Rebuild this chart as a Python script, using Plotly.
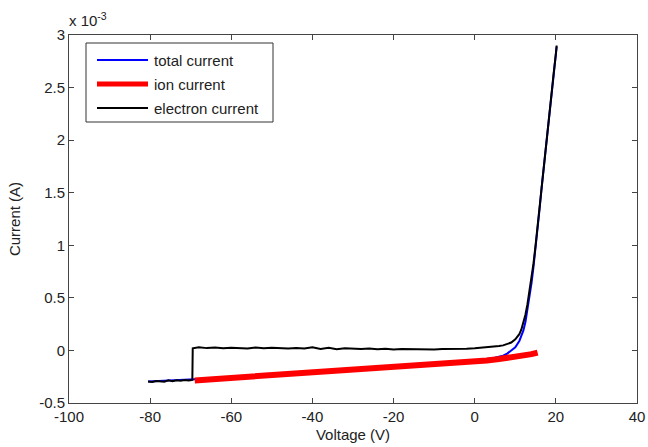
import plotly.graph_objects as go

# ---------------- data (currents in units of 1e-3 A) ----------------
electron_v = [-80.5, -79.5, -78.5, -77.5, -76.5, -75.5, -74.5, -73.5, -72.5, -71.5, -70.5, -69.6,
              -69.5, -68.0, -66.0, -64.0, -62.0, -60.0, -58.0, -56.0, -54.0, -52.0, -50.0,
              -48.0, -46.0, -44.0, -42.0, -40.0, -38.0, -36.0, -34.0, -32.0, -30.0, -28.0,
              -26.0, -24.0, -22.0, -20.0, -18.0, -16.0, -14.0, -12.0, -10.0, -8.0, -6.0,
              -4.0, -2.0, 0.0, 2.0, 4.0, 5.0, 6.0, 7.0, 8.0, 9.0, 10.0, 11.0, 11.5, 12.0,
              12.5, 13.0, 13.5, 14.0, 14.5, 15.0, 15.5, 16.0, 16.5, 17.0, 17.5, 18.0, 18.5,
              19.0, 19.5, 20.0, 20.2]
electron_i = [-0.295, -0.300, -0.290, -0.292, -0.298, -0.285, -0.292, -0.283, -0.288, -0.282, -0.285, -0.280,
              0.020, 0.030, 0.022, 0.028, 0.020, 0.026, 0.024, 0.018, 0.027, 0.020, 0.025,
              0.022, 0.019, 0.024, 0.018, 0.030, 0.014, 0.025, 0.012, 0.020, 0.016, 0.013,
              0.018, 0.012, 0.016, 0.010, 0.014, 0.012, 0.011, 0.015, 0.010, 0.013, 0.012,
              0.018, 0.016, 0.020, 0.025, 0.030, 0.035, 0.042, 0.048, 0.058, 0.075, 0.105, 0.155, 0.200, 0.260,
              0.340, 0.440, 0.560, 0.680, 0.830, 1.000, 1.190, 1.380, 1.560, 1.750, 1.920, 2.110, 2.290,
              2.460, 2.650, 2.820, 2.900]

ion_v = [-69.0, -65.0, -60.0, -55.0, -50.0, -45.0, -40.0, -35.0, -30.0, -25.0, -20.0, -15.0,
         -10.0, -5.0, 0.0, 3.0, 6.0, 9.0, 12.0, 14.0, 15.5]
ion_i = [-0.285, -0.275, -0.262, -0.250, -0.238, -0.226, -0.212, -0.200, -0.188, -0.176, -0.164, -0.152,
         -0.138, -0.122, -0.105, -0.095, -0.082, -0.068, -0.050, -0.035, -0.020]

total_v = [-80.5, -75.0, -69.6, -69.0, -60.0, -50.0, -40.0, -30.0, -20.0, -10.0, 0.0, 5.0, 7.0,
           8.0, 9.0, 10.0, 11.0, 12.0, 12.5, 13.0, 13.5, 14.0, 14.5, 15.0, 15.5, 16.0, 16.5,
           17.0, 18.0, 19.0, 20.0, 20.2]
total_i = [-0.295, -0.288, -0.280, -0.275, -0.252, -0.228, -0.202, -0.178, -0.154, -0.128, -0.095, -0.070, -0.050,
           -0.030, 0.000, 0.030, 0.090, 0.190, 0.270, 0.380, 0.500, 0.640, 0.800, 0.970, 1.170, 1.350, 1.550,
           1.740, 2.100, 2.450, 2.810, 2.890]

x_ticks = [-100, -80, -60, -40, -20, 0, 20, 40]
x_tick_labels = ["-100", "-80", "-60", "-40", "-20", "0", "20", "40"]
y_ticks = [-0.5, 0, 0.5, 1, 1.5, 2, 2.5, 3]
y_tick_labels = ["-0.5", "0", "0.5", "1", "1.5", "2", "2.5", "3"]

series_names = ["total current", "ion current", "electron current"]
series_colors = ["#0000ff", "#ff0000", "#000000"]
series_widths = [2, 6, 2]

FONT = "Liberation Sans, Arial, sans-serif"
TXT = "#222222"

fig = go.Figure()
fig.add_trace(go.Scatter(x=total_v, y=total_i, mode="lines", name=series_names[0],
                         line=dict(color=series_colors[0], width=series_widths[0]), showlegend=False))
fig.add_trace(go.Scatter(x=ion_v, y=ion_i, mode="lines", name=series_names[1],
                         line=dict(color=series_colors[1], width=series_widths[1]), showlegend=False))
fig.add_trace(go.Scatter(x=electron_v, y=electron_i, mode="lines", name=series_names[2],
                         line=dict(color=series_colors[2], width=series_widths[2]), showlegend=False))

# ---- pixel geometry helpers for the MATLAB-like legend box ----
W, H = 648, 447
L, R, T, B = 69, 11, 35, 44
pw, ph = W - L - R, H - T - B


def px(xp):
    return (xp - L) / pw


def py(yp):
    return (H - B - yp) / ph


shapes = [dict(type="rect", xref="paper", yref="paper",
               x0=px(86), x1=px(273), y0=py(122), y1=py(43),
               line=dict(color="#333333", width=1), fillcolor="white", layer="above")]
annotations = []
legend_rows = [60, 84, 108]
for name, col, wd, yy in zip(series_names, series_colors, series_widths, legend_rows):
    shapes.append(dict(type="line", xref="paper", yref="paper",
                       x0=px(97), x1=px(148), y0=py(yy), y1=py(yy),
                       line=dict(color=col, width=wd if wd < 5 else 5), layer="above"))
    annotations.append(dict(xref="paper", yref="paper", x=px(152), y=py(yy),
                            xanchor="left", yanchor="middle", text=name, showarrow=False,
                            font=dict(family=FONT, size=15, color=TXT)))

# exponent label
annotations.append(dict(xref="paper", yref="paper", x=px(67), y=py(19),
                        xanchor="left", yanchor="middle",
                        text="x 10<sup>-3</sup>", showarrow=False,
                        font=dict(family=FONT, size=15, color=TXT)))

axis_common = dict(showgrid=False, zeroline=False, showline=True, linecolor="#444444", linewidth=1,
                   mirror="allticks", ticks="inside", ticklen=5, tickcolor="#444444",
                   automargin=False, ticklabeloverflow="allow",
                   tickfont=dict(family=FONT, size=15, color=TXT))

fig.update_layout(
    width=W, height=H,
    margin=dict(l=L, r=R, t=T, b=B, pad=0),
    paper_bgcolor="white", plot_bgcolor="white",
    shapes=shapes, annotations=annotations,
    xaxis=dict(range=[-100, 40], tickvals=x_ticks, ticktext=x_tick_labels,
               title=dict(text="Voltage (V)", standoff=5, font=dict(family=FONT, size=15, color=TXT)),
               **axis_common),
    yaxis=dict(range=[-0.5, 3], tickvals=y_ticks, ticktext=y_tick_labels,
               title=dict(text="Current (A)", standoff=14, font=dict(family=FONT, size=15, color=TXT)),
               **axis_common),
)

fig.write_html("out.html")
